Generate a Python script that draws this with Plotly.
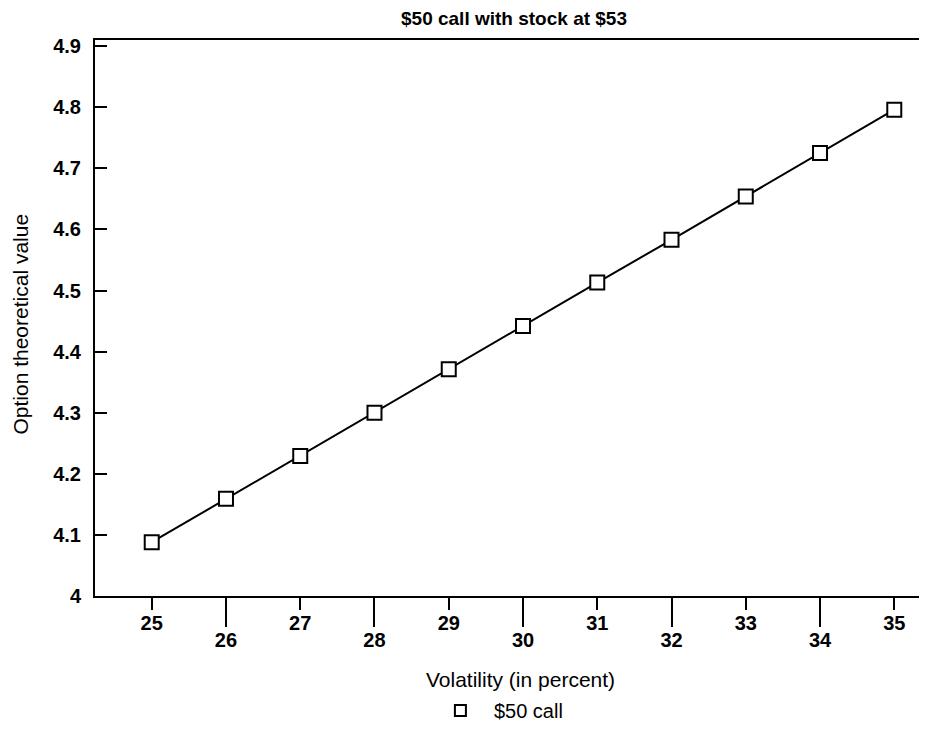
import plotly.graph_objects as go

volatility = [25, 26, 27, 28, 29, 30, 31, 32, 33, 34, 35]
call_value = [4.088, 4.159, 4.229, 4.300, 4.371, 4.442, 4.513, 4.583, 4.654, 4.725, 4.796]
odd_ticks = [25, 27, 29, 31, 33, 35]
even_ticks = [26, 28, 30, 32, 34]
y_ticks = [4, 4.1, 4.2, 4.3, 4.4, 4.5, 4.6, 4.7, 4.8, 4.9]
y_tick_labels = ["4", "4.1", "4.2", "4.3", "4.4", "4.5", "4.6", "4.7", "4.8", "4.9"]

FONT = "Liberation Sans, Arial, sans-serif"
xr = [24.236, 35.333]

fig = go.Figure()
fig.add_trace(go.Scatter(
    x=volatility, y=call_value, mode="lines+markers", name="$50 call",
    line=dict(color="black", width=2),
    marker=dict(symbol="square", size=14, color="white", line=dict(color="black", width=2)),
    xaxis="x", yaxis="y", showlegend=False,
))
# legend-only entry (marker only, as in the reference)
fig.add_trace(go.Scatter(
    x=[None], y=[None], mode="markers", name="$50 call",
    marker=dict(symbol="square", size=11, color="white", line=dict(color="black", width=2)),
    xaxis="x", yaxis="y", showlegend=True,
))
fig.add_trace(go.Scatter(
    x=volatility, y=call_value, mode="lines", line=dict(width=0, color="rgba(0,0,0,0)"),
    showlegend=False, hoverinfo="skip", xaxis="x2", yaxis="y",
))

tickfont = dict(family=FONT, size=20, color="black", weight="bold")

fig.update_layout(
    width=911, height=722,
    margin=dict(l=87, r=0, t=32, b=134, autoexpand=False),
    paper_bgcolor="white", plot_bgcolor="white",
    showlegend=True,
    legend=dict(orientation="h", x=0.4028, xanchor="left", y=-0.2058, yanchor="middle",
                font=dict(family=FONT, size=20, color="black"),
                itemwidth=57, bgcolor="rgba(0,0,0,0)"),
    xaxis=dict(range=xr, tickmode="array", tickvals=odd_ticks, ticktext=[str(v) for v in odd_ticks],
               ticks="outside", ticklen=12, tickwidth=2, tickcolor="black",
               showline=True, linecolor="black", linewidth=2, mirror=True,
               showgrid=False, zeroline=False, tickfont=tickfont,
               ticklabelstandoff=-4),
    xaxis2=dict(range=xr, overlaying="x", side="bottom", anchor="y",
                tickmode="array", tickvals=even_ticks, ticktext=[str(v) for v in even_ticks],
                ticks="outside", ticklen=30, tickwidth=2, tickcolor="black",
                showline=False, showgrid=False, zeroline=False, tickfont=tickfont,
                ticklabelstandoff=-4),
    yaxis=dict(range=[4, 4.91], tickmode="array", tickvals=y_ticks, ticktext=y_tick_labels,
               ticks="inside", ticklen=12, tickwidth=2, tickcolor="black",
               showline=True, linecolor="black", linewidth=2,
               showgrid=False, zeroline=False, tickfont=tickfont,
               ticklabelstandoff=8),
    annotations=[
        dict(text="$50 call with stock at $53", xref="paper", yref="paper", x=0.5085, y=1.0378,
             xanchor="center", yanchor="middle", showarrow=False,
             font=dict(family=FONT, size=19, color="black", weight="bold")),
        dict(text="Volatility (in percent)", xref="paper", yref="paper", x=0.5158, y=-0.1510,
             xanchor="center", yanchor="middle", showarrow=False,
             font=dict(family=FONT, size=21, color="black")),
        dict(text="Option theoretical value", xref="paper", yref="paper", x=-0.0905, y=0.489,
             xanchor="center", yanchor="middle", showarrow=False, textangle=-90,
             font=dict(family=FONT, size=21, color="black")),
    ],
)

fig.write_html("out.html")
